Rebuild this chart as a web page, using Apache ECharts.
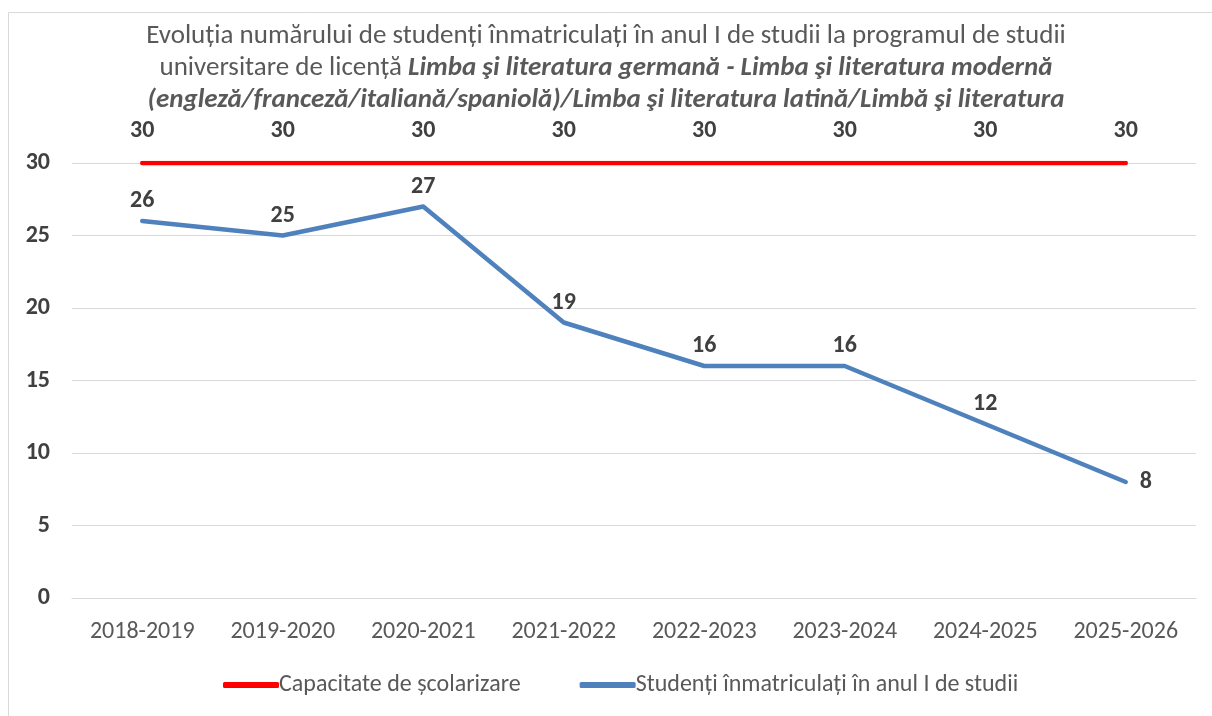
<!DOCTYPE html>
<html>
<head>
<meta charset="utf-8">
<script src="https://cdn.jsdelivr.net/npm/echarts@6/dist/echarts.min.js"></script>
<style>
  html, body { margin: 0; padding: 0; background: #fff; }
  #chart { width: 1212px; height: 716px; }
</style>
</head>
<body>
<div id="chart"></div>
<script>
// data
var years = ['2018-2019', '2019-2020', '2020-2021', '2021-2022', '2022-2023', '2023-2024', '2024-2025', '2025-2026'];
var capacitate = [30, 30, 30, 30, 30, 30, 30, 30];
var studenti = [26, 25, 27, 19, 16, 16, 12, 8];
var yTicks = [0, 5, 10, 15, 20, 25, 30];

var FONT = "Carlito, 'Liberation Sans Narrow', 'Open Sans', sans-serif";

var chart = echarts.init(document.getElementById('chart'));

// last point has its label on the right, like the original
var studentiData = studenti.map(function (v, i) {
    if (i === studenti.length - 1) {
        return { value: v, label: { position: 'right', distance: 14 } };
    }
    return v;
});

var option = {
    backgroundColor: '#fff',
    animation: false,
    title: {
        left: 'center',
        top: 15,
        text: '{n|Evoluția numărului de studenți înmatriculați în anul I de studii la programul de studii}\n' +
              '{n|universitare de licență }{b|Limba şi literatura germană - Limba şi literatura modernă}\n' +
              '{b|(engleză/franceză/italiană/spaniolă)/Limba şi literatura latină/Limbă şi literatura}',
        textStyle: {
            rich: {
                n: { fontFamily: FONT, fontSize: 27, fontWeight: 'normal', color: '#595959', lineHeight: 32 },
                b: { fontFamily: FONT, fontSize: 27, color: '#595959', fontWeight: 'bold', fontStyle: 'italic', lineHeight: 32 }
            }
        }
    },
    graphic: [{
        type: 'rect',
        shape: { x: 8.5, y: 12.5, width: 1220, height: 720 },
        style: { fill: 'none', stroke: '#d9d9d9', lineWidth: 1 },
        silent: true,
        z: -1
    }],
    legend: {
        bottom: 14,
        left: 218,
        itemWidth: 56,
        itemHeight: 6,
        itemGap: 59,
        icon: 'roundRect',
        textStyle: { fontFamily: FONT, fontSize: 24, color: '#595959', padding: [0, 0, 0, -5] },
        data: ['Capacitate de școlarizare', 'Studenți înmatriculați în anul I de studii']
    },
    grid: { left: 72, right: 16, top: 163, bottom: 118 },
    xAxis: {
        type: 'category',
        data: years,
        boundaryGap: true,
        axisLine: { show: true, lineStyle: { color: '#d9d9d9', width: 1 } },
        axisTick: { show: false },
        axisLabel: { fontFamily: FONT, fontSize: 24, color: '#595959', margin: 22 }
    },
    yAxis: {
        type: 'value',
        min: yTicks[0],
        max: yTicks[yTicks.length - 1],
        interval: 5,
        axisLine: { show: false },
        axisTick: { show: false },
        axisLabel: { fontFamily: FONT, fontSize: 24, fontWeight: 'bold', color: '#404040', margin: 22 },
        splitLine: { lineStyle: { color: '#d9d9d9', width: 1 } }
    },
    series: [{
        name: 'Capacitate de școlarizare',
        type: 'line',
        data: capacitate,
        symbol: 'circle',
        symbolSize: 0,
        showSymbol: true,
        lineStyle: { color: '#ff0000', width: 4.5, cap: 'round' },
        itemStyle: { color: '#ff0000' },
        label: {
            show: true,
            position: 'top',
            distance: 20,
            fontFamily: FONT,
            fontSize: 24,
            fontWeight: 'bold',
            color: '#404040'
        },
        z: 2
    }, {
        name: 'Studenți înmatriculați în anul I de studii',
        type: 'line',
        data: studentiData,
        symbol: 'circle',
        symbolSize: 0,
        showSymbol: true,
        lineStyle: { color: '#4f81bd', width: 4.5, cap: 'round', join: 'round' },
        itemStyle: { color: '#4f81bd' },
        label: {
            show: true,
            position: 'top',
            distance: 8,
            fontFamily: FONT,
            fontSize: 24,
            fontWeight: 'bold',
            color: '#404040'
        },
        z: 3
    }]
};

chart.setOption(option);
</script>
</body>
</html>
